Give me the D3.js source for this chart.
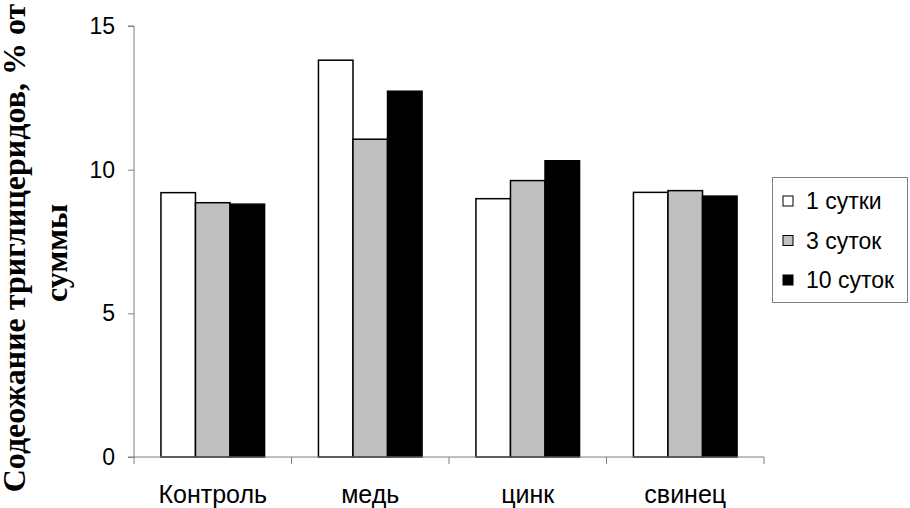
<!DOCTYPE html>
<html><head><meta charset="utf-8">
<script src="https://cdn.jsdelivr.net/npm/d3@7"></script>
<style>body{margin:0;background:#fff}svg{display:block}</style>
</head><body>
<script>
const categories = ["Контроль", "медь", "цинк", "свинец"];
const seriesNames = ["1 сутки", "3 суток", "10 суток"];
const s1 = [9.2, 13.81, 8.99, 9.21];
const s3 = [8.85, 11.06, 9.62, 9.27];
const s10 = [8.8, 12.73, 10.31, 9.08];
const yTicks = [0, 5, 10, 15];
const colors = ["#ffffff", "#c0c0c0", "#000000"];

const W = 910, H = 508;
const svg = d3.select("body").append("svg").attr("width", W).attr("height", H);
const x0 = 134, x1 = 764, yTop = 26, yBot = 457;
const x = d3.scaleBand().domain(categories).range([x0, x1]).padding(0);
const xs = d3.scaleBand().domain(seriesNames).range([0, x.bandwidth()]).paddingOuter(0.78).paddingInner(0);
const y = d3.scaleLinear().domain([0, 15]).range([yBot, yTop]);
const data = [s1, s3, s10];

// bars
const g = svg.append("g");
categories.forEach((c, i) => {
  seriesNames.forEach((s, j) => {
    g.append("rect")
      .attr("x", x(c) + xs(s))
      .attr("y", y(data[j][i]))
      .attr("width", xs.bandwidth())
      .attr("height", y(0) - y(data[j][i]))
      .attr("fill", colors[j])
      .attr("stroke", "#000").attr("stroke-width", 1.5);
  });
});

// y axis
const ya = svg.append("g").attr("transform", `translate(${x0},0)`)
  .call(d3.axisLeft(y).tickValues(yTicks).tickSize(6).tickPadding(13).tickFormat(d3.format("d")));
ya.select(".domain").attr("stroke", "#808080").attr("d", `M-6,${yTop}H0V${yBot}H-6`);
ya.selectAll(".tick line").attr("stroke", "#808080");
ya.selectAll("text").attr("font-family", "Liberation Sans, Arial, sans-serif").attr("font-size", 23).attr("fill", "#000");

// x axis
const xa = svg.append("g").attr("transform", `translate(0,${yBot})`);
xa.append("line").attr("x1", x0).attr("x2", x1).attr("y1", 0).attr("y2", 0).attr("stroke", "#808080");
const bounds = categories.map(c => x(c)).concat([x1]);
xa.selectAll(".xt").data(bounds).enter().append("line")
  .attr("x1", d => d).attr("x2", d => d).attr("y1", 0).attr("y2", 7).attr("stroke", "#808080");
xa.selectAll(".xl").data(categories).enter().append("text")
  .attr("x", d => x(d) + x.bandwidth() / 2).attr("y", 46)
  .attr("text-anchor", "middle")
  .attr("font-family", "Liberation Sans, Arial, sans-serif").attr("font-size", 25)
  .text(d => d);

// y label
const yl = svg.append("text").attr("transform", "translate(0,248) rotate(-90)")
  .attr("text-anchor", "middle")
  .attr("font-family", "Liberation Serif, Times New Roman, serif").attr("font-weight", "bold").attr("font-size", 32);
yl.append("tspan").attr("x", 0).attr("y", 25).text("Содеожание триглицеридов, % от");
yl.append("tspan").attr("x", -5).attr("y", 67).text("суммы");

// legend
const lg = svg.append("g");
lg.append("rect").attr("x", 772.5).attr("y", 177.5).attr("width", 135).attr("height", 125)
  .attr("fill", "#fff").attr("stroke", "#808080");
seriesNames.forEach((s, j) => {
  const base = 209 + j * 39.5;
  lg.append("rect").attr("x", 783).attr("y", base - 13).attr("width", 10).attr("height", 10)
    .attr("fill", colors[j]).attr("stroke", "#000").attr("stroke-width", 1);
  lg.append("text").attr("x", 806).attr("y", base)
    .attr("font-family", "Liberation Sans, Arial, sans-serif").attr("font-size", 23).text(s);
});
</script>
</body></html>
